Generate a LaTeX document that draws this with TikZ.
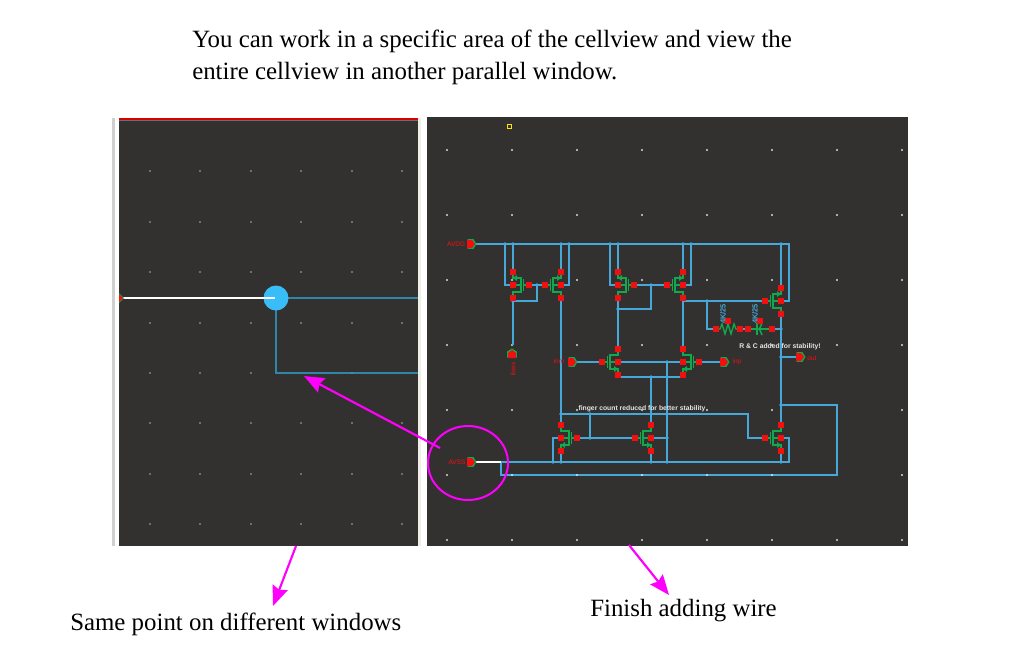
\documentclass[tikz,border=0pt]{standalone}
\usepackage{fontspec}
\setmainfont{Liberation Serif}
\setsansfont{Liberation Sans}
\usetikzlibrary{arrows.meta}
\definecolor{panelbg}{HTML}{33312F}
\definecolor{wireblue}{HTML}{45A8D8}
\definecolor{dimwire}{HTML}{2F86A8}
\definecolor{devgreen}{HTML}{12A84E}
\definecolor{pinred}{HTML}{F01010}
\definecolor{magentaarrow}{HTML}{FF00FF}
\definecolor{griddim}{HTML}{6E6E6E}
\definecolor{striplight}{HTML}{D0D0D0}
\definecolor{stripcream}{HTML}{F1EEE8}
\definecolor{bigdot}{HTML}{38BDF8}
\tikzset{
  x=0.75pt,y=-0.75pt,
  caption/.style={font=\fontsize{18.65}{18.65}\selectfont,anchor=base west,inner sep=0pt,text=black},
  wire/.style={draw=wireblue,line width=0.8pt},
  dev/.style={draw=devgreen,line width=1pt},
  pinlabel/.style={font=\sffamily\fontsize{4.9}{5}\selectfont,text=pinred,inner sep=0pt},
  sizelabel/.style={font=\sffamily\bfseries\fontsize{5.6}{6}\selectfont,text=wireblue,inner sep=0pt,rotate=90},
  note/.style={font=\sffamily\bfseries\fontsize{5.1}{6}\selectfont,text=white!90!black,inner sep=0pt},
  callout/.style={draw=magentaarrow,fill=magentaarrow,line width=1.6pt,-{Stealth[length=15pt,width=12pt,inset=2pt]}},
  ringmark/.style={draw=magentaarrow,line width=1.5pt},
}
\newcommand{\term}[2]{\fill[pinred] (#1-2.6,#2-2.6) rectangle (#1+2.6,#2+2.6);}
\newcommand{\junc}[2]{\fill[wireblue] (#1,#2) circle (1.9);}
\newcommand{\mosdev}[3]{%
  \begin{scope}[shift={(#1,#2)},xscale=#3]
    \draw[dev] (0,-11) -- (0,-7) -- (8,-7) -- (8,7) -- (0,7) -- (0,11) (0,0) -- (8,0);
    \draw[dev,line width=1.2pt] (10.5,-6) -- (10.5,6);
    \draw[dev] (10.5,0) -- (15,0);
    \fill[devgreen] (0,-7) -- (4,-10) -- (4,-4) -- cycle;
  \end{scope}
  \term{#1}{#2-13}\term{#1}{#2}\term{#1}{#2+13}\term{#1+16*#3}{#2}}
\newcommand{\mosdevl}[3]{%
  \begin{scope}[shift={(#1,#2)},xscale=#3]
    \draw[dev] (0,-11) -- (0,-7) -- (8,-7) -- (8,7) -- (0,7) -- (0,11) (0,0) -- (8,0);
    \draw[dev,line width=1.2pt] (10.5,-6) -- (10.5,6);
    \draw[dev] (10.5,0) -- (15,0);
    \fill[devgreen] (0,7) -- (4,10) -- (4,4) -- cycle;
  \end{scope}
  \term{#1}{#2-13}\term{#1}{#2}\term{#1}{#2+13}\term{#1+16*#3}{#2}}
\newcommand{\pinright}[2]{%
  \fill[devgreen] (#1-3.5,#2-4.8) -- (#1+2.5,#2-4.8) -- (#1+5.5,#2) -- (#1+2.5,#2+4.8) -- (#1-3.5,#2+4.8) -- cycle;
  \fill[pinred] (#1-4,#2-4) -- (#1+1,#2-4) -- (#1+4,#2) -- (#1+1,#2+4) -- (#1-4,#2+4) -- cycle;}
\begin{document}
\begin{tikzpicture}
\useasboundingbox (0,0) rectangle (1013,658);
\fill[white] (0,0) rectangle (1013,658);

% window strips and panels
\fill[striplight] (112,118) rectangle (115,546);
\fill[stripcream] (418,118) rectangle (421,546);
\fill[panelbg] (119,118) rectangle (418,546);
\fill[panelbg] (427,117) rectangle (908,546);
\fill[red!85!black] (119,117.5) rectangle (418,119.5);
\fill[griddim] (119,119.5) rectangle (418,120.5);

% left panel grid
\foreach \gx in {150,200,251,301,352,402}{
  \foreach \gy in {171,222,272,323,373,423,474,524}{
    \fill[griddim] (\gx-0.8,\gy-0.8) rectangle (\gx+0.8,\gy+0.8);
  }
}

% left panel wires
\draw[draw=dimwire,line width=0.9pt] (276,298) -- (418,298);
\draw[draw=dimwire,line width=0.9pt] (276,298) -- (276,373) -- (418,373);
\fill[griddim!60!wireblue] (352-1,373-1) rectangle (352+1,373+1);
\fill[bigdot] (276,298) circle (12.5);
\draw[white,line width=2.2pt] (123,298) -- (275,298);
\fill[devgreen] (119,293) -- (124,298) -- (119,303) -- cycle;
\fill[pinred] (119,294) -- (123,298) -- (119,302) -- cycle;

% right panel grid
\foreach \gx in {447,512,577,642,707,772,837,902}{
  \foreach \gy in {150,215,280,345,410,475,540}{
    \fill[white!85!black] (\gx,\gy) circle (1.1);
  }
}
\draw[draw=yellow!85!orange,line width=0.6pt] (507,124.5) rectangle (511,128.5);

% schematic wires
\draw[wire] (471,244) -- (781,244);
\draw[wire] (505,244) -- (505,285) -- (513,285);
\draw[wire] (513,244) -- (513,272) (513,298) -- (513,345);
\draw[wire] (513,301) -- (537,301) -- (537,285);
\draw[wire] (529,285) -- (545,285);
\draw[wire] (561,244) -- (561,272) (561,298) -- (561,425) (561,451) -- (561,462);
\draw[wire] (569,244) -- (569,285) -- (561,285);
\draw[wire] (610,244) -- (610,285) -- (618,285);
\draw[wire] (618,244) -- (618,272) (618,298) -- (618,349);
\draw[wire] (618,309) -- (651,309) -- (651,285);
\draw[wire] (634,285) -- (667,285);
\draw[wire] (683,244) -- (683,272) (683,298) -- (683,349);
\draw[wire] (691,244) -- (691,285) -- (683,285);
\draw[wire] (781,244) -- (781,288) (781,314) -- (781,425) (781,451) -- (781,462);
\draw[wire] (781,244) -- (789,244) -- (789,301) -- (781,301);
\draw[wire] (683,301) -- (764,301);
\draw[wire] (707,301) -- (707,329) -- (716,329);
\draw[wire] (772,329) -- (781,329);
\draw[wire] (781,357) -- (800,357);
\draw[wire] (572,362) -- (602,362);
\draw[wire] (618,362) -- (683,362);
\draw[wire] (699,362) -- (723,362);
\draw[wire] (618,375) -- (618,377) -- (683,377) -- (683,375);
\draw[wire] (651,377) -- (651,425);
\draw[wire] (667,362) -- (667,462);
\draw[wire] (561,414) -- (748,414) -- (748,438) -- (764,438);
\draw[wire] (590,414) -- (590,438);
\draw[wire] (577,438) -- (634,438);
\draw[wire] (651,438) -- (667,438);
\draw[wire] (561,438) -- (553,438) -- (553,462);
\draw[wire] (651,451) -- (651,462);
\draw[wire] (501,462) -- (781,462);
\draw[wire] (781,438) -- (789,438) -- (789,462) -- (781,462);
\draw[wire] (781,405) -- (837,405) -- (837,475) -- (501,475) -- (501,462);
\draw[white,line width=1.8pt] (476,462) -- (501,462);

% junctions
\foreach \jx/\jy in {505/244,513/244,561/244,569/244,610/244,618/244,683/244,691/244,781/244,
  537/285,651/285,513/301,618/309,707/301,781/357,781/329,667/362,651/377,561/414,590/414,
  590/438,667/438,553/462,561/462,651/462,667/462,781/462,781/405}{
  \junc{\jx}{\jy}
}
\foreach \dx in {512,577,642,707,772}{
  \fill[white!75!wireblue] (\dx,475) circle (1.1);
}

% devices
\mosdev{513}{285}{1}
\mosdev{561}{285}{-1}
\mosdev{618}{285}{1}
\mosdev{683}{285}{-1}
\mosdev{781}{301}{-1}
\mosdevl{618}{362}{-1}
\mosdevl{683}{362}{1}
\mosdevl{561}{438}{1}
\mosdevl{651}{438}{-1}
\mosdevl{781}{438}{-1}

% resistor and capacitor
\draw[dev] (716,329) -- (720,329) -- (722,324) -- (725,334) -- (728,324) -- (731,334) -- (734,324) -- (736,329) -- (740,329);
\draw[wire] (740,329) -- (748,329);
\draw[dev] (748,329) -- (772,329);
\draw[dev,line width=1.1pt] (757,323) -- (757,335);
\draw[dev,line width=1.1pt] (762,323) -- (759.5,329) -- (762,335);
\foreach \tx/\ty in {716/329,740/329,748/329,772/329,728/321,760/321}{
  \term{\tx}{\ty}
}

% pins
\pinright{471}{244}
\pinright{572}{362}
\pinright{724}{362}
\pinright{800}{357}
\pinright{471}{462}
\begin{scope}[shift={(512,354)},rotate=90]
  \fill[devgreen] (-3.5,-4.8) -- (2.5,-4.8) -- (5.5,0) -- (2.5,4.8) -- (-3.5,4.8) -- cycle;
  \fill[pinred] (-4,-4) -- (1,-4) -- (4,0) -- (1,4) -- (-4,4) -- cycle;
\end{scope}

% small labels
\node[pinlabel] (lblavdd) at (456,244) {AVDD};
\node[pinlabel,rotate=90] (lblibias) at (513,369) {ibias};
\node[pinlabel] (lblinm) at (559,361.5) {inm};
\node[pinlabel] (lblinp) at (737,362) {inp};
\node[pinlabel] (lblout) at (812,358) {out};
\node[pinlabel] (lblavss) at (457,462.5) {AVSS};
\node[sizelabel] (lblr) at (723,314) {4K/25};
\node[sizelabel] (lblc) at (755,314) {4K/25};
\node[note] (noterc) at (780,347) {R \& C added for stability!};
\node[note] (notefinger) at (642,408.5) {finger count reduced for better stability};

% magenta annotations
\draw[ringmark] (468,463) ellipse (40 and 37);
\coordinate (ringedge) at (440,448);
\coordinate (wiretip) at (304,376);
\draw[callout] (ringedge) -- (wiretip);
\coordinate (lefttail) at (296,546);
\coordinate (lefttip) at (273,606);
\draw[callout] (lefttail) -- (lefttip);
\coordinate (righttail) at (629,545);
\coordinate (righttip) at (669,595);
\draw[callout] (righttail) -- (righttip);

% captions
\node[caption] (headone) at (192,47) {You can work in a specific area of the cellview and view the};
\node[caption] (headtwo) at (192,79) {entire cellview in another parallel window.};
\node[caption] (capleft) at (70,630) {Same point on different windows};
\node[caption] (capright) at (590,616) {Finish adding wire};
\end{tikzpicture}
\end{document}
